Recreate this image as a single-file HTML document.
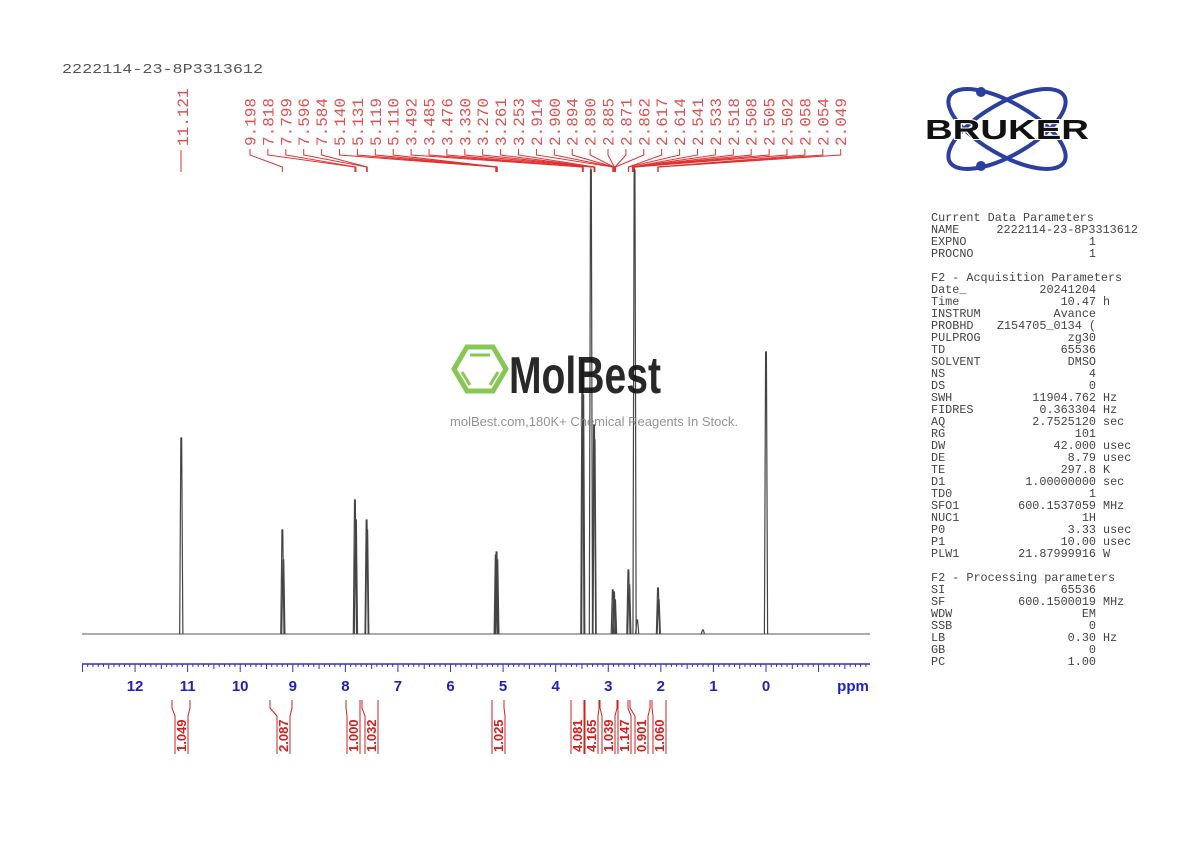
<!DOCTYPE html>
<html><head><meta charset="utf-8"><style>
body{margin:0;background:#fff;}
svg{display:block;}
.m{font-family:"Liberation Mono",monospace;}
</style></head><body>
<svg id="s" width="1190" height="842" xmlns="http://www.w3.org/2000/svg">
<rect width="1190" height="842" fill="#fff"/>
<text x="62" y="73" class="m" font-size="14" fill="#555" textLength="201" lengthAdjust="spacingAndGlyphs">2222114-23-8P3313612</text>
<g id="lab" class="m" font-size="16" fill="#e05050"></g>
<g id="con" stroke="#e03030" stroke-width="1" fill="none"></g>
<line x1="82" y1="634" x2="870" y2="634" stroke="#555" stroke-width="1"/>
<g id="pk" stroke="#444" stroke-width="1.2" fill="none"></g>
<line x1="82" y1="664" x2="870" y2="664" stroke="#3030c0" stroke-width="1.5"/>
<g id="tk" stroke="#3030c0" stroke-width="1"></g>
<g id="tl" font-family="Liberation Sans,sans-serif" font-weight="bold" font-size="15" fill="#2020c0" text-anchor="middle"></g>
<text x="853" y="691" font-family="Liberation Sans,sans-serif" font-weight="bold" font-size="15" fill="#2020c0" text-anchor="middle">ppm</text>
<g id="int" font-family="Liberation Sans,sans-serif" font-weight="bold" font-size="13" fill="#d02020"></g>
<g id="intl" stroke="#d02020" stroke-width="1" fill="none"></g>
<g opacity="0.9">
<polygon points="467,347 493,347 506,369 493,391 467,391 454,369" fill="none" stroke="#7ac143" stroke-width="5"/>
<line x1="470" y1="355" x2="490" y2="355" stroke="#7ac143" stroke-width="3"/>
<line x1="462" y1="372" x2="470" y2="385" stroke="#7ac143" stroke-width="3"/>
<line x1="498" y1="372" x2="490" y2="385" stroke="#7ac143" stroke-width="3"/>
<text x="509" y="393" font-family="Liberation Sans Narrow,Liberation Sans,sans-serif" font-weight="bold" font-size="52" fill="#111" textLength="152" lengthAdjust="spacingAndGlyphs">MolBest</text>
<text x="594" y="426" font-family="Liberation Sans,sans-serif" font-size="13" fill="#888" text-anchor="middle">molBest.com,180K+ Chemical Reagents In Stock.</text>
</g>
<g>
<ellipse cx="1007" cy="129" rx="66" ry="26" transform="rotate(30 1007 129)" fill="none" stroke="#2a3fa0" stroke-width="4"/>
<ellipse cx="1007" cy="129" rx="66" ry="26" transform="rotate(-30 1007 129)" fill="none" stroke="#2a3fa0" stroke-width="4"/>
<circle cx="981" cy="92" r="5" fill="#2a3fa0"/>
<circle cx="981" cy="166" r="5" fill="#2a3fa0"/>
<text x="1007" y="139" font-family="Liberation Sans,sans-serif" font-weight="bold" font-size="28" fill="#111" text-anchor="middle" textLength="164" lengthAdjust="spacingAndGlyphs" stroke="#fff" stroke-width="2" paint-order="stroke">BRUKER</text>
</g>
<g id="par" class="m" font-size="11.8" fill="#444"></g>
</svg>
<script>
const NS="http://www.w3.org/2000/svg";
function el(p,t,a,txt){const e=document.createElementNS(NS,t);for(const k in a)e.setAttribute(k,a[k]);if(txt!==undefined)e.textContent=txt;document.getElementById(p).appendChild(e);return e;}
const X=p=>766-52.58*p;
const labs=["9.198","7.818","7.799","7.596","7.584","5.140","5.131","5.119","5.110","3.492","3.485","3.476","3.330","3.270","3.261","3.253","2.914","2.900","2.894","2.890","2.885","2.871","2.862","2.617","2.614","2.541","2.533","2.518","2.508","2.505","2.502","2.058","2.054","2.049"];
el("lab","text",{transform:"translate(188,146) rotate(-90)"},"11.121");
el("con","path",{d:"M181,150 L181,172"});
labs.forEach((l,i)=>{const lx=250+i*17.9;
el("lab","text",{transform:`translate(${lx+5.5},146) rotate(-90)`},l);
const px=X(parseFloat(l));
el("con","path",{d:`M${lx},149 L${lx},155 L${px},167 L${px},172`});});
const pk=[[11.121,438],[9.198,530],[9.18,560],[7.818,500],[7.799,520],[7.596,520],[7.584,530],[5.14,555],[5.125,552],[5.11,560],[3.492,360],[3.476,395],[3.33,170],[3.27,425],[3.26,440],[2.914,590],[2.89,592],[2.871,600],[2.617,570],[2.60,585],[2.50,170],[2.45,620],[2.054,588],[2.04,600],[0,352],[1.2,630]];
pk.forEach(([p,t])=>{const x=X(p);el("pk","path",{d:`M${x-1.6},634 L${x-0.4},${t} L${x+0.4},${t} L${x+1.6},634`});});
for(let v=-20;v<=130;v++){const p=v/10;const x=X(p);if(x<82||x>870)continue;const big=v%10==0,mid=v%5==0;el("tk","line",{x1:x,y1:664,x2:x,y2:big?672:(mid?669:667)});}
for(let p=0;p<=12;p++)el("tl","text",{x:X(p),y:691},String(p));
const ints=[[181,"1.049",172,190],[283,"2.087",270,292],[353,"1.000",346,360],[371,"1.032",362,378],[498,"1.025",492,504],[577,"4.081",571,584],[591,"4.165",585,599],[608,"1.039",600,617],[624,"1.147",618,628],[641,"0.901",630,650],[659,"1.060",652,666]];
ints.forEach(([x,t,a,b])=>{el("int","text",{transform:`translate(${x+5},752) rotate(-90)`},t);
el("intl","path",{d:`M${a},700 L${a},708 L${x-6},716 L${x-6},754`});el("intl","path",{d:`M${b},700 L${b},708 L${x+7},716 L${x+7},754`});});
const par=[["Current Data Parameters",""],["NAME","2222114-23-8P3313612"],["EXPNO","1"],["PROCNO","1"],null,["F2 - Acquisition Parameters",""],["Date_","20241204"],["Time","10.47 h"],["INSTRUM","Avance"],["PROBHD","Z154705_0134 ("],["PULPROG","zg30"],["TD","65536"],["SOLVENT","DMSO"],["NS","4"],["DS","0"],["SWH","11904.762 Hz"],["FIDRES","0.363304 Hz"],["AQ","2.7525120 sec"],["RG","101"],["DW","42.000 usec"],["DE","8.79 usec"],["TE","297.8 K"],["D1","1.00000000 sec"],["TD0","1"],["SFO1","600.1537059 MHz"],["NUC1","1H"],["P0","3.33 usec"],["P1","10.00 usec"],["PLW1","21.87999916 W"],null,["F2 - Processing parameters",""],["SI","65536"],["SF","600.1500019 MHz"],["WDW","EM"],["SSB","0"],["LB","0.30 Hz"],["GB","0"],["PC","1.00"]];
let y=221;par.forEach(r=>{if(r){el("par","text",{x:931,y:y},r[0]);if(r[1]){let v=r[1];let x=1096;if(/ (Hz|h|sec|usec|K|MHz|W)$/.test(v)){const u=v.split(" ");v=u[0];el("par","text",{x:1103,y:y},u[1]);}el("par","text",{x:(r[0]=="NAME")?1138:x,y:y,"text-anchor":"end"},v);}}y+=12;});
</script>
</body></html>
